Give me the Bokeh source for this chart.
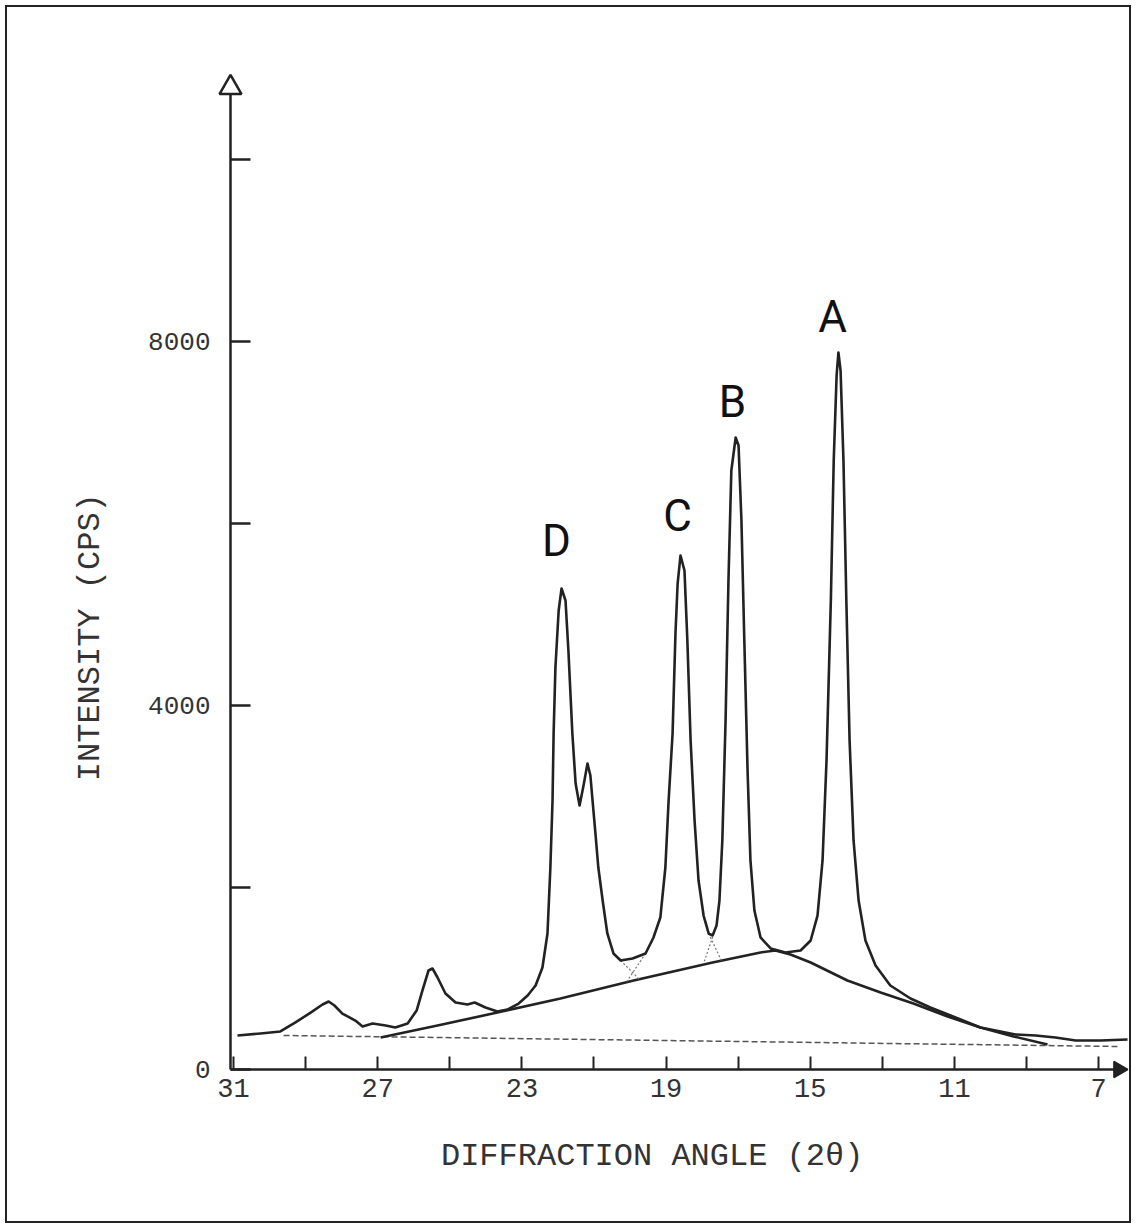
import math
from bokeh.plotting import figure
from bokeh.models import Range1d, FixedTicker
from bokeh.core.properties import value
from bokeh.embed import file_html
from bokeh.resources import INLINE

# ---- data -----------------------------------------------------------------
two_theta = [30.89, 30.25, 29.70, 29.28, 28.86, 28.53, 28.36, 28.20, 27.98, 27.62,
             27.42, 27.14, 26.78, 26.51, 26.17, 25.92, 25.76, 25.59, 25.48, 25.34,
             25.12, 24.84, 24.51, 24.31, 24.01, 23.68, 23.40, 23.09, 22.84, 22.62,
             22.43, 22.29, 22.21, 22.15, 22.12, 22.07, 21.98, 21.90, 21.79, 21.71,
             21.60, 21.51, 21.40, 21.29, 21.18, 21.10, 21.04, 20.96, 20.88, 20.76,
             20.63, 20.46, 20.26, 19.93, 19.57, 19.35, 19.16, 19.02, 18.93, 18.82,
             18.74, 18.68, 18.60, 18.49, 18.41, 18.32, 18.21, 18.10, 17.96, 17.82,
             17.71, 17.60, 17.52, 17.44, 17.35, 17.27, 17.19, 17.07, 16.99, 16.91,
             16.83, 16.74, 16.66, 16.55, 16.38, 16.10, 15.69, 15.27, 14.99, 14.80,
             14.66, 14.55, 14.43, 14.35, 14.27, 14.22, 14.16, 14.08, 14.00, 13.91,
             13.80, 13.66, 13.47, 13.19, 12.78, 12.22, 11.67, 10.97, 10.28, 9.72,
             9.31, 8.75, 8.20, 7.64, 6.95, 6.20]
intensity = [374, 396, 418, 517, 626, 714, 747, 703, 615, 538,
             473, 506, 484, 462, 506, 648, 868, 1088, 1110, 1011,
             835, 736, 714, 736, 681, 637, 659, 725, 813, 923,
             1121, 1495, 2220, 2956, 3693, 4418, 5044, 5286, 5154, 4605,
             3693, 3143, 2901, 3121, 3363, 3231, 2956, 2594, 2220, 1857,
             1495, 1275, 1198, 1220, 1275, 1451, 1670, 2220, 2956, 3693,
             4792, 5341, 5649, 5484, 4715, 3616, 2736, 2077, 1692, 1495,
             1473, 1583, 1857, 2517, 3836, 5374, 6583, 6946, 6858, 6033,
             4715, 3286, 2297, 1747, 1451, 1330, 1286, 1308, 1418, 1692,
             2297, 3396, 5154, 6693, 7627, 7880, 7682, 6693, 5154, 3616,
             2517, 1857, 1418, 1143, 923, 780, 681, 571, 462, 418,
             385, 374, 352, 319, 319, 330]

amorphous_theta = [26.92, 25.34, 23.68, 21.93, 19.90, 17.71, 16.38, 15.97, 15.55,
                   14.99, 13.97, 13.05, 12.14, 11.19, 10.28, 9.36, 8.42]
amorphous_intensity = [352, 484, 626, 780, 978, 1176, 1286, 1308, 1264,
                       1176, 978, 846, 725, 582, 462, 363, 275]

baseline_theta = [29.61, 6.48]
baseline_intensity = [374, 253]

# resolved peak tails drawn dotted under the overlaps
tail_theta = [[20.26, 19.71], [19.57, 20.09], [17.82, 17.44], [17.60, 17.96]]
tail_intensity = [[1198, 978], [1275, 967], [1495, 1176], [1583, 1165]]

peak_names = ["A", "B", "C", "D"]
peak_label_theta = [14.38, 17.16, 18.68, 22.04]
peak_label_intensity = [8275, 7341, 6088, 5803]

x_ticks = [31, 29, 27, 25, 23, 21, 19, 17, 15, 13, 11, 9, 7]
x_tick_labels = ["31", "", "27", "", "23", "", "19", "", "15", "", "11", "", "7"]
y_ticks = [0, 2000, 4000, 6000, 8000, 10000]
y_tick_labels = ["0", "", "4000", "", "8000", ""]

x_title = "DIFFRACTION ANGLE (2\u03b8)"
y_title = "INTENSITY (CPS)"

# ---- figure ------------------------------------------------------------------
INK = "#222222"
TXT = "#333333"
MONO = "Liberation Mono"

X0, X1 = 31.083, 6.25        # drawn extent of the x axis
Y1 = 10880                   # top of the y axis line

p = figure(width=1136, height=1228,
           x_range=Range1d(X0, 6.09), y_range=Range1d(0, 10979),
           output_backend="svg", toolbar_location=None,
           min_border_left=230, min_border_right=5,
           min_border_top=70, min_border_bottom=159,
           background_fill_color=None, border_fill_color=None,
           outline_line_color=None,
           styles={"background-color": "#ffffff",
                   "box-shadow": "inset 0 0 0 5px #ffffff, inset 0 0 0 7px #222222"})

p.xgrid.visible = False
p.ygrid.visible = False

xa = p.xaxis[0]
xa.bounds = (X1, X0)
xa.ticker = FixedTicker(ticks=x_ticks)
xa.major_label_overrides = {t: l for t, l in zip(x_ticks, x_tick_labels)}
xa.major_tick_in = 13
xa.major_tick_out = 0
xa.minor_tick_line_color = None
xa.axis_line_width = 2.5
xa.axis_line_color = INK
xa.major_tick_line_width = 2
xa.major_tick_line_color = INK
xa.major_label_text_font = MONO
xa.major_label_text_font_size = "27px"
xa.major_label_text_color = TXT
xa.major_label_standoff = 9
xa.axis_label = x_title + "\u00a0" * 3
xa.axis_label_text_font = MONO
xa.axis_label_text_font_size = "32px"
xa.axis_label_text_font_style = "normal"
xa.axis_label_text_color = TXT
xa.axis_label_standoff = 38

ya = p.yaxis[0]
ya.bounds = (0, Y1)
ya.ticker = FixedTicker(ticks=y_ticks)
ya.major_label_overrides = {t: l for t, l in zip(y_ticks, y_tick_labels)}
ya.major_tick_in = 20
ya.major_tick_out = 0
ya.minor_tick_line_color = None
ya.axis_line_width = 2.5
ya.axis_line_color = INK
ya.major_tick_line_width = 2.5
ya.major_tick_line_color = INK
ya.major_label_text_font = MONO
ya.major_label_text_font_size = "26px"
ya.major_label_text_color = TXT
ya.major_label_standoff = 20
ya.axis_label = y_title + "\u00a0" * 7
ya.axis_label_text_font = MONO
ya.axis_label_text_font_size = "32px"
ya.axis_label_text_font_style = "normal"
ya.axis_label_text_color = TXT
ya.axis_label_standoff = 36

# background (zero) line, dashed and faint
p.line(baseline_theta, baseline_intensity, line_color="#555555", line_width=1.5,
       line_dash="6 3")

# amorphous hump
p.line(amorphous_theta, amorphous_intensity, line_color=INK, line_width=2.6,
       line_join="round")

# resolved tails (dotted)
p.multi_line(tail_theta, tail_intensity, line_color="#777777", line_width=1.2,
             line_dash="2 2")

# diffraction trace
p.line(two_theta, intensity, line_color=INK, line_width=2.6, line_join="round")

# peak letters
p.text(x=peak_label_theta, y=peak_label_intensity, text=peak_names,
       text_font=value("Roboto"), text_font_size="44px", text_align="center",
       text_baseline="middle", text_color="#111111")

# axis arrow heads (drawn above the frame clip)
p.scatter(x=[X0], y=[10790], marker="triangle", size=22, fill_color="white",
          line_color=INK, line_width=2.5, level="overlay")
p.scatter(x=[6.45], y=[0], marker="triangle", size=16, angle=-math.pi / 2,
          fill_color=INK, line_color=INK, line_width=1.5, level="overlay")

open("out.html", "w").write(file_html(p, INLINE))
